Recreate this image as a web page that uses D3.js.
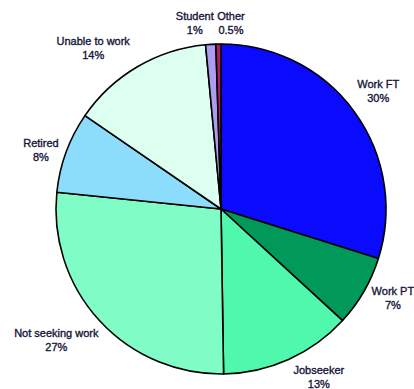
<!DOCTYPE html>
<html>
<head>
<meta charset="utf-8">
<script src="https://cdn.jsdelivr.net/npm/d3@7"></script>
<style>
  html, body { margin: 0; padding: 0; background: #ffffff; }
  svg { display: block; }
  .lbl { font-family: "Liberation Sans", Arial, sans-serif; font-size: 11px; fill: #15153a; stroke: #15153a; stroke-width: 0.35px; }
</style>
</head>
<body>
<svg id="chart" width="414" height="389"></svg>
<script>
// Status categories and their shares (percent), clockwise from 12 o'clock
const categories = ["Work FT", "Work PT", "Jobseeker", "Not seeking work", "Retired", "Unable to work", "Student", "Other"];
const shares = [30, 7, 13, 27, 8, 14, 1, 0.5];
const shareLabels = ["30%", "7%", "13%", "27%", "8%", "14%", "1%", "0.5%"];

// Slice fills
const fills = ["#0a0aff", "#00995a", "#4ff8ac", "#80fdc6", "#8cdcfb", "#dcfff0", "#ad9cf0", "#b01a6e"];

// Per-label nudges away from the label-arc centroid, in px
const labelNudge = {
  "Work FT": [0, -3],
  "Work PT": [3, -9],
  "Jobseeker": [18, -10],
  "Not seeking work": [-21, -1],
  "Retired": [3, 8],
  "Unable to work": [-29, 7],
  "Student": [-14, 9],
  "Other": [13, 9]
};

const svg = d3.select("#chart");
const cx = 221, cy = 209, radius = 165, labelRadius = 195;

const data = categories.map((c, i) => ({ name: c, value: shares[i], label: shareLabels[i], fill: fills[i] }));

const pie = d3.pie().sort(null).value(d => d.value).startAngle(0).endAngle(2 * Math.PI);
const arcs = pie(data);

const arc = d3.arc().innerRadius(0).outerRadius(radius);
const labelArc = d3.arc().innerRadius(labelRadius).outerRadius(labelRadius);

const g = svg.append("g").attr("transform", `translate(${cx},${cy})`);

g.selectAll("path.slice")
  .data(arcs)
  .join("path")
  .attr("class", "slice")
  .attr("d", arc)
  .attr("fill", d => d.data.fill)
  .attr("stroke", "#000")
  .attr("stroke-width", 1.6)
  .attr("stroke-linejoin", "round");

const labels = g.selectAll("g.label")
  .data(arcs)
  .join("g")
  .attr("class", "label")
  .attr("transform", d => {
    const [x, y] = labelArc.centroid(d);
    const [dx, dy] = labelNudge[d.data.name] || [0, 0];
    return `translate(${x + dx},${y + dy})`;
  });

labels.append("text")
  .attr("class", "lbl")
  .attr("text-anchor", "middle")
  .attr("y", -3)
  .text(d => d.data.name);

labels.append("text")
  .attr("class", "lbl")
  .attr("text-anchor", "middle")
  .attr("y", 11)
  .text(d => d.data.label);
</script>
</body>
</html>
